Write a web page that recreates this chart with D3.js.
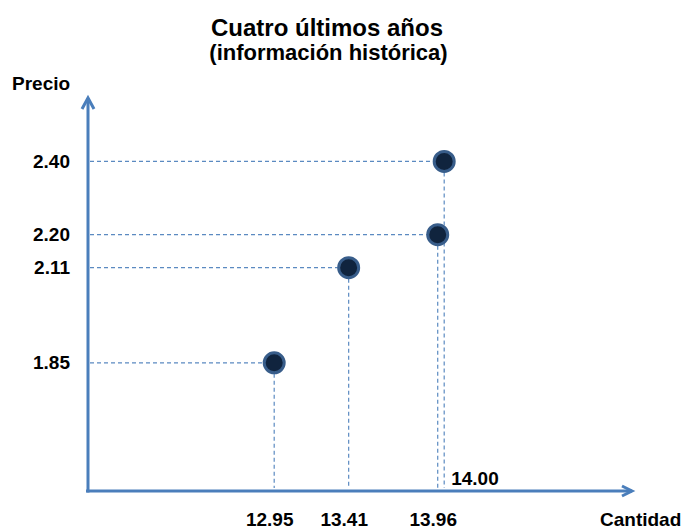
<!DOCTYPE html>
<html>
<head>
<meta charset="utf-8">
<script src="https://cdn.jsdelivr.net/npm/d3@7"></script>
<style>
  body { margin: 0; background: #fff; }
  svg text { font-family: "Liberation Sans", Arial, sans-serif; font-weight: bold; fill: #000; }
</style>
</head>
<body>
<svg id="chart" width="685" height="531"></svg>
<script>
// Quantity and price for the last four years
const cantidad = [12.95, 13.41, 13.96, 14.00];
const precio = [1.85, 2.11, 2.20, 2.40];

// Axis labels
const precioTicks = [2.40, 2.20, 2.11, 1.85];
const cantidadTicksAbajo = [12.95, 13.41, 13.96];
const cantidadTicksArriba = [14.00];

const titulo = "Cuatro últimos años";
const subtitulo = "(información histórica)";
const ejeY = "Precio";
const ejeX = "Cantidad";

const puntos = cantidad.map((q, i) => ({ q, p: precio[i] }));

const svg = d3.select("#chart");
const azul = "#4a7ebb";

const x = d3.scaleLinear().domain([11.8, 15.16]).range([88, 632]);
const y = d3.scaleLinear().domain([1.50, 2.576]).range([491, 97]);

const [x0, x1] = x.range();
const [y0, y1] = y.range();

// Titles
svg.append("text").attr("x", 327).attr("y", 35.5).attr("text-anchor", "middle")
  .style("font-size", "24px").text(titulo);
svg.append("text").attr("x", 328.5).attr("y", 59.5).attr("text-anchor", "middle")
  .style("font-size", "22px").text(subtitulo);

// Guide lines from each point to the axes
const guias = svg.append("g")
  .attr("stroke", azul).attr("stroke-width", 1.2)
  .attr("stroke-dasharray", "4,3").attr("fill", "none").attr("opacity", 0.9);
guias.selectAll("line.h").data(puntos).join("line").attr("class", "h")
  .attr("x1", x0 + 2).attr("x2", d => x(d.q) - 11)
  .attr("y1", d => y(d.p)).attr("y2", d => y(d.p));
guias.selectAll("line.v").data(puntos).join("line").attr("class", "v")
  .attr("x1", d => x(d.q)).attr("x2", d => x(d.q))
  .attr("y1", d => y(d.p) + 11).attr("y2", y0 - 3);

// Axes with arrow heads
const ejes = svg.append("g").attr("stroke", azul).attr("stroke-width", 3)
  .attr("fill", "none").attr("stroke-linecap", "butt");
ejes.append("line").attr("x1", x0).attr("x2", x0).attr("y1", y0 + 1.5).attr("y2", y1 + 1);
ejes.append("line").attr("x1", x0 - 2).attr("x2", x1).attr("y1", y0).attr("y2", y0);
ejes.append("path").attr("stroke-linejoin", "miter")
  .attr("d", `M${x0 - 6},${y1 + 12}L${x0},${y1 + 1}L${x0 + 6},${y1 + 12}`);
ejes.append("path").attr("stroke-linejoin", "miter")
  .attr("d", `M${x1 - 10},${y0 - 5}L${x1},${y0}L${x1 - 10},${y0 + 5}`);

// Price labels
svg.append("g").attr("transform", "translate(70,0)")
  .call(d3.axisLeft(y).tickValues(precioTicks).tickFormat(d3.format(".2f")).tickSize(0).tickPadding(0))
  .call(g => g.select(".domain").remove())
  .call(g => g.selectAll("text").style("font-size", "19px").attr("fill", "#000"));

// Quantity labels below the axis
svg.append("g").attr("transform", "translate(-5,526)")
  .call(d3.axisBottom(x).tickValues(cantidadTicksAbajo).tickFormat(d3.format(".2f")).tickSize(0).tickPadding(0))
  .call(g => g.select(".domain").remove())
  .call(g => g.selectAll("text").attr("y", 0).attr("dy", 0).style("font-size", "19px").attr("fill", "#000"));

// Quantity label above the axis, beside its guide line
svg.selectAll("text.arriba").data(cantidadTicksArriba).join("text").attr("class", "arriba")
  .attr("x", d => x(d) + 7).attr("y", y0 - 6).style("font-size", "19px")
  .text(d => d3.format(".2f")(d));

// Axis titles
svg.append("text").attr("x", 12).attr("y", 90).style("font-size", "19px").text(ejeY);
svg.append("text").attr("x", 600).attr("y", 526).style("font-size", "19px").text(ejeX);

// Points
svg.append("g").selectAll("circle").data(puntos).join("circle")
  .attr("cx", d => x(d.q)).attr("cy", d => y(d.p)).attr("r", 10)
  .attr("fill", "#10243e").attr("stroke", "#385d8a").attr("stroke-width", 3);
</script>
</body>
</html>
